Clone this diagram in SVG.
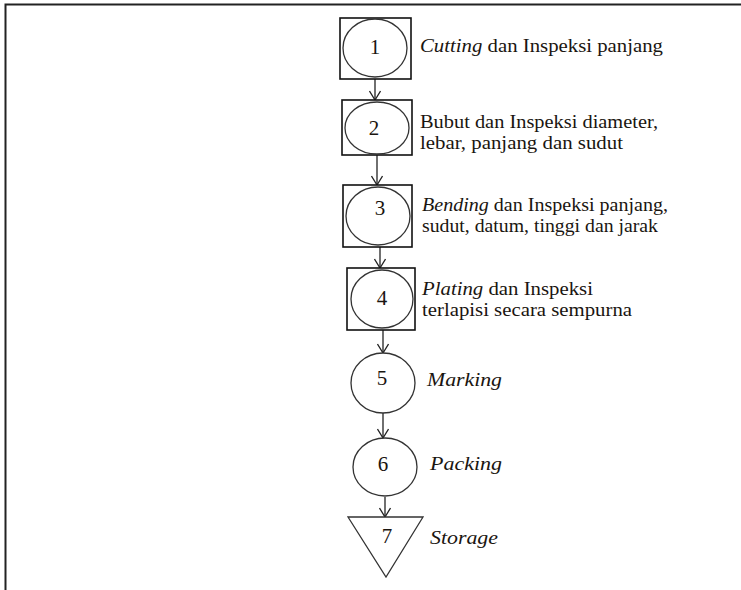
<svg xmlns="http://www.w3.org/2000/svg" width="741" height="590" viewBox="0 0 741 590">
<defs>
<marker id="ah" viewBox="0 0 12 12" refX="11" refY="6" markerWidth="12" markerHeight="12" markerUnits="userSpaceOnUse" orient="auto">
<path d="M2,0.5 L11,6 L2,11.5" fill="none" stroke="#222" stroke-width="1.3"/>
</marker>
</defs>
<style>
.frame{fill:none;stroke:#222;stroke-width:2}
.box{fill:#fff;stroke:#111;stroke-width:1.6}
.op{fill:#fff;stroke:#333;stroke-width:1.3}
.lbl{font-family:"Liberation Serif","Times New Roman",serif;font-size:18px;fill:#1a1510}
.num{font-family:"Liberation Serif","Times New Roman",serif;font-size:21px;fill:#1a1510;text-anchor:middle}
.it{font-style:italic}
.con{fill:none;stroke:#222;stroke-width:1.3;marker-end:url(#ah)}
</style>
<rect width="741" height="590" fill="#fff"/>
<path class="frame" d="M5.5,590 V4.5 H741"/>
<g id="connectors">
<line class="con" x1="375" y1="79" x2="375" y2="100"/>
<line class="con" x1="377" y1="155" x2="377" y2="185"/>
<line class="con" x1="380" y1="247" x2="380" y2="268"/>
<line class="con" x1="383" y1="330" x2="383" y2="353"/>
<line class="con" x1="383" y1="413" x2="383" y2="438"/>
<line class="con" x1="385" y1="497" x2="385" y2="517"/>
</g>
<g id="node1">
<rect class="box" x="340" y="18" width="71" height="61"/>
<ellipse class="op" cx="375" cy="48" rx="32" ry="29"/>
<text class="num" x="375" y="54">1</text>
<text class="lbl" x="420" y="52" textLength="243" lengthAdjust="spacingAndGlyphs"><tspan class="it">Cutting</tspan> dan Inspeksi panjang</text>
</g>
<g id="node2">
<rect class="box" x="342" y="100" width="70" height="55"/>
<ellipse class="op" cx="377" cy="128" rx="32" ry="26"/>
<text class="num" x="374" y="135">2</text>
<text class="lbl" x="420" y="128" textLength="238" lengthAdjust="spacingAndGlyphs">Bubut dan Inspeksi diameter,</text>
<text class="lbl" x="420" y="149" textLength="203" lengthAdjust="spacingAndGlyphs">lebar, panjang dan sudut</text>
</g>
<g id="node3">
<rect class="box" x="343" y="185" width="69" height="62"/>
<ellipse class="op" cx="378" cy="216" rx="32" ry="29"/>
<text class="num" x="380" y="215">3</text>
<text class="lbl" x="422" y="211" textLength="246" lengthAdjust="spacingAndGlyphs"><tspan class="it">Bending</tspan> dan Inspeksi panjang,</text>
<text class="lbl" x="422" y="232" textLength="236" lengthAdjust="spacingAndGlyphs">sudut, datum, tinggi dan jarak</text>
</g>
<g id="node4">
<rect class="box" x="347" y="268" width="68" height="62"/>
<ellipse class="op" cx="382" cy="299" rx="31" ry="29"/>
<text class="num" x="382" y="305">4</text>
<text class="lbl" x="422" y="295" textLength="171" lengthAdjust="spacingAndGlyphs"><tspan class="it">Plating</tspan> dan Inspeksi</text>
<text class="lbl" x="422" y="316" textLength="210" lengthAdjust="spacingAndGlyphs">terlapisi secara sempurna</text>
</g>
<g id="node5">
<ellipse class="op" cx="383" cy="383" rx="32" ry="30"/>
<text class="num" x="382" y="385">5</text>
<text class="lbl it" x="427" y="386" textLength="75" lengthAdjust="spacingAndGlyphs">Marking</text>
</g>
<g id="node6">
<ellipse class="op" cx="385" cy="467" rx="32" ry="29"/>
<text class="num" x="383" y="471">6</text>
<text class="lbl it" x="430" y="470" textLength="72" lengthAdjust="spacingAndGlyphs">Packing</text>
</g>
<g id="node7">
<polygon class="op" points="348,517 423,517 386,577"/>
<text class="num" x="387" y="543">7</text>
<text class="lbl it" x="430" y="544" textLength="68" lengthAdjust="spacingAndGlyphs">Storage</text>
</g>
</svg>
